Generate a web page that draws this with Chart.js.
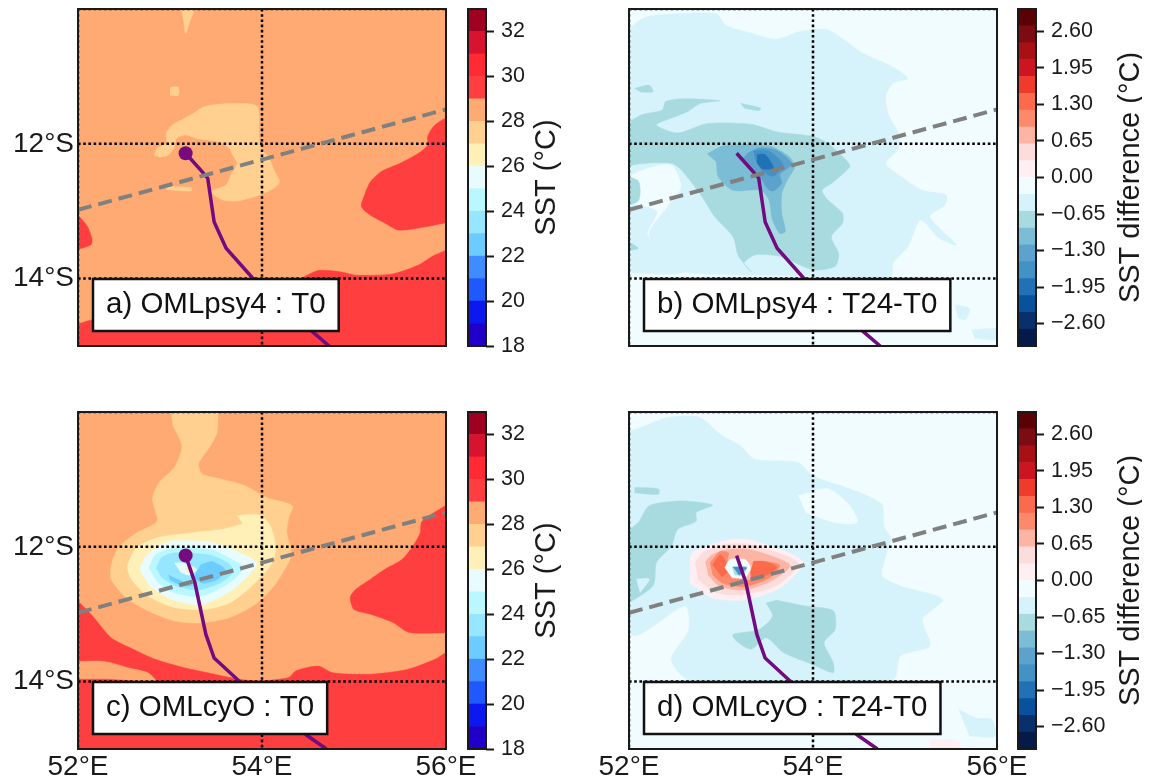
<!DOCTYPE html>
<html>
<head>
<meta charset="utf-8">
<script src="https://cdn.jsdelivr.net/npm/chart.js"></script>
<style>
  html, body { margin: 0; background: #fff; }
  canvas { position: absolute; }
</style>
</head>
<body>
<script>
// colour bands (lower bound of each band, one more bound than colours)
const sstBounds = [18,19,20,21,22,23,24,25,26,27,28,29,30,31,32,33];
const sstColors = ['#2000c8','#0c18f0','#2058ff','#3e8cff','#6cccff','#96e6ff','#baf8ff','#e8fcff','#fff0b8','#ffd090','#ffaa72','#ff3f3f','#ff2a33','#d7132f','#a00020'];
const sstTicks = [18,20,22,24,26,28,30,32];
const diffBounds = [-3,-2.7,-2.4,-2.1,-1.8,-1.5,-1.2,-0.9,-0.6,-0.3,0,0.3,0.6,0.9,1.2,1.5,1.8,2.1,2.4,2.7,3];
const diffColors = ['#061a4a','#08306b','#08519c','#2171b5','#4292c6','#5ca2cc','#7abdd4','#a8dbe0','#d6f3fb','#f0fcff','#ffeef2','#fddcdc','#fcb5a5','#fc8a6a','#fb6a4a','#ef3b2c','#cc1520','#a81016','#7d0b12','#5c0008'];
const diffTicks = [-2.6,-1.95,-1.3,-0.65,0,0.65,1.3,1.95,2.6];

const lonTicks = [52,54,56];
const latTicks = [-14,-12];
const dottedLons = [52,54];
const dottedLats = [-10,-12,-14];
const fullBox = [[52,-10],[56,-10],[56,-15],[52,-15]];

// storm tracks and section line, lon/lat
const trackPsy = [[53.17,-12.14],[53.38,-12.46],[53.41,-12.51],[53.48,-13.16],[53.61,-13.55],[53.89,-13.98],[54.55,-14.79],[54.73,-15]];
const trackCyo = [[53.17,-12.13],[53.27,-12.53],[53.39,-13.3],[53.48,-13.65],[53.75,-13.99],[54.49,-14.8],[54.7,-15]];
const sectionA = [[52,-12.98],[56,-11.49]];

// a) OMLpsy4 T0 contours, shapes touching the frame run a bit past it
const aEast = [[56.15,-11.5],[55.88,-11.72],[55.8,-11.89],[55.8,-12.02],[55.7,-12.14],[55.5,-12.29],[55.3,-12.41],[55.18,-12.56],[55.12,-12.74],[55.08,-12.93],[55.18,-13.06],[55.34,-13.18],[55.48,-13.28],[55.7,-13.25],[56.15,-13.13]];
const aSouth = [[51.85,-14.75],[52.16,-14.61],[53,-14.5],[54,-14.3],[54.45,-13.98],[54.61,-13.88],[54.85,-13.9],[55.02,-13.95],[55.42,-13.93],[55.7,-13.8],[55.88,-13.65],[56.15,-13.55],[56.15,-15.15],[51.85,-15.15]];
const aWest = [[51.85,-12.85],[52.09,-13.2],[52.15,-13.4],[52.14,-13.5],[51.85,-13.62]];
const aCool = [[52.83,-12.17],[52.86,-12.07],[52.96,-11.99],[52.96,-11.84],[53.03,-11.72],[53.23,-11.57],[53.37,-11.45],[53.57,-11.41],[53.89,-11.41],[53.96,-11.47],[53.97,-11.94],[54,-12.09],[54.07,-12.19],[54.13,-12.39],[54.19,-12.56],[54.13,-12.66],[53.97,-12.76],[53.73,-12.85],[53.57,-12.83],[53.45,-12.71],[53.61,-12.61],[53.67,-12.44],[53.73,-12.29],[53.67,-12.14],[53.65,-12.07],[53.53,-11.97],[53.29,-11.92],[53.17,-11.87],[53.07,-11.92],[53.05,-12.04],[52.98,-12.17],[52.88,-12.2]];
const aStrip = [[52.96,-12.63],[53.23,-12.65],[53.23,-12.7],[52.96,-12.68]];
const aNorth = [[53.1,-9.85],[53.29,-9.85],[53.21,-10.21],[53.17,-10.36],[53.15,-10.21]];
const aSpot = [[53,-11.16],[53.09,-11.16],[53.09,-11.28],[53,-11.28]];

// b) OMLpsy4 T24-T0 contours
const bPale = [[51.85,-10.5],[52.12,-10.16],[52.3,-10.09],[52.95,-10.07],[53.05,-10.24],[53.33,-10.36],[53.6,-10.45],[53.84,-10.34],[54.16,-10.31],[54.55,-10.66],[54.87,-10.86],[55.03,-11.03],[54.87,-11.1],[54.79,-11.3],[54.83,-11.6],[54.93,-11.84],[54.93,-12.07],[54.79,-12.29],[54.91,-12.44],[55.19,-12.69],[55.45,-12.76],[55.43,-12.91],[55.27,-13.08],[55.56,-13.5],[55.37,-13.4],[55.17,-13.13],[55.03,-13.53],[54.87,-13.77],[54.85,-13.97],[54.24,-13.97],[53.25,-13.95],[52.61,-13.9],[52.34,-13.65],[52.22,-13.33],[52.42,-12.93],[52.57,-12.64],[52.46,-12.31],[52.14,-12.39],[51.85,-12.6]];
const bPaleLeft = [[51.85,-12.85],[52.3,-13],[52.2,-13.35],[52.6,-13.9],[51.85,-13.9]];
const bPaleSpot1 = [[55.54,-14.39],[55.7,-14.44],[55.66,-14.61],[55.58,-14.59]];
const bPaleSpot2 = [[55.72,-14.76],[56.15,-14.74],[56.15,-14.91],[55.76,-14.89]];
const bTeal = [[51.85,-11.8],[52.14,-11.57],[52.36,-11.5],[52.4,-11.37],[52.61,-11.33],[52.99,-11.36],[52.78,-11.4],[52.64,-11.52],[52.5,-11.6],[52.3,-11.72],[52.53,-11.84],[52.85,-11.7],[53.33,-11.71],[53.6,-11.82],[54,-11.89],[54.16,-11.99],[54.36,-12.24],[54.4,-12.34],[54.2,-12.59],[54.1,-12.69],[54.16,-12.83],[54.32,-13.03],[54.32,-13.18],[54.2,-13.38],[54.28,-13.63],[54.24,-13.82],[54,-13.87],[53.64,-13.67],[53.37,-13.65],[53.25,-13.77],[53.33,-13.9],[53.19,-13.67],[53.13,-13.38],[52.93,-13.08],[52.79,-12.78],[52.57,-12.39],[52.46,-12.29],[52.06,-12.31],[51.85,-12.45]];
const bTealLeft = [[51.85,-12.45],[52.1,-12.55],[52.1,-12.85],[51.85,-12.95]];
const bTealSpot1 = [[52.06,-11.18],[52.22,-11.13],[52.26,-11.23],[52.12,-11.23]];
const bTealSpot2 = [[53.21,-11.4],[53.43,-11.47],[53.41,-11.51],[53.25,-11.47]];
const bTealSpot3 = [[51.85,-13.35],[52.1,-13.55],[51.85,-13.6]];
const bBlue1 = [[52.85,-12.15],[53.03,-12.03],[53.52,-12.03],[53.74,-12.19],[53.8,-12.34],[53.72,-12.54],[53.66,-12.74],[53.66,-13.03],[53.7,-13.3],[53.64,-13.33],[53.56,-13.13],[53.52,-12.83],[53.43,-12.69],[53.13,-12.69],[52.97,-12.49],[52.95,-12.27]];
const bBlue2 = [[53.29,-12.14],[53.42,-12.06],[53.61,-12.1],[53.77,-12.3],[53.64,-12.45],[53.66,-12.58],[53.57,-12.7],[53.51,-12.67],[53.42,-12.48],[53.33,-12.36],[53.24,-12.21]];
const bBlue3 = [[53.35,-12.1],[53.51,-12.1],[53.67,-12.3],[53.57,-12.48],[53.45,-12.4],[53.37,-12.22]];
const bBlue4 = [[53.39,-12.16],[53.48,-12.16],[53.57,-12.36],[53.45,-12.37],[53.39,-12.28]];

// c) OMLcyO T0 contours
const cEast = [[56.15,-11.26],[55.74,-11.62],[55.72,-11.79],[55.64,-11.99],[55.52,-12.19],[55.34,-12.33],[55.18,-12.48],[55.02,-12.63],[54.96,-12.75],[55,-12.93],[55.18,-13],[55.42,-13.12],[55.6,-13.27],[56.15,-13.27]];
const cSouth = [[51.85,-12.6],[52.16,-13.03],[52.36,-13.35],[52.6,-13.52],[52.84,-13.67],[53.17,-13.8],[53.41,-13.87],[53.73,-13.96],[53.97,-13.99],[54.29,-13.94],[54.37,-13.84],[54.61,-13.77],[54.77,-13.87],[55.18,-13.89],[55.58,-13.82],[55.88,-13.67],[56.15,-13.48],[56.15,-15.15],[51.85,-15.15]];
const cSliver = [[51.85,-13.71],[52.28,-13.7],[52.56,-13.8],[52.76,-13.87],[52.84,-13.99],[52.36,-13.96],[51.85,-13.96]];
const cBand27 = [[53,-9.85],[53.49,-9.85],[53.51,-10.3],[53.43,-10.52],[53.31,-10.77],[53.35,-10.92],[53.57,-11],[53.81,-11.09],[54.05,-11.27],[54.33,-11.39],[54.29,-11.57],[54.27,-11.79],[54.32,-12.09],[54.29,-12.23],[54.13,-12.58],[53.93,-12.85],[53.65,-13.05],[53.33,-13.13],[53.05,-13.1],[52.76,-12.95],[52.52,-12.75],[52.36,-12.48],[52.36,-12.28],[52.44,-12.01],[52.64,-11.79],[52.86,-11.62],[52.81,-11.29],[52.88,-11.05],[53.05,-10.82],[53.13,-10.5],[53.03,-10.2]];
const cBand26 = [[53.73,-11.54],[53.97,-11.53],[54.09,-11.69],[54.15,-12.04],[54.09,-12.28],[53.89,-12.58],[53.65,-12.83],[53.37,-12.93],[53.05,-12.9],[52.76,-12.73],[52.58,-12.48],[52.54,-12.28],[52.64,-12.01],[52.88,-11.86],[53.25,-11.79],[53.57,-11.74],[53.79,-11.66]];
const cBand25 = [[52.67,-12.34],[52.75,-12.12],[53,-11.92],[53.47,-11.94],[53.76,-12.09],[53.94,-12.24],[53.83,-12.46],[53.62,-12.69],[53.33,-12.86],[53.04,-12.79],[52.78,-12.59]];
const cBand24 = [[52.77,-12.32],[52.84,-12.12],[53.04,-12.02],[53.47,-12.05],[53.69,-12.2],[53.8,-12.3],[53.69,-12.49],[53.47,-12.67],[53.29,-12.74],[53.02,-12.67],[52.86,-12.52]];
const cBand23 = [[52.85,-12.32],[52.91,-12.16],[53.05,-12.09],[53.43,-12.12],[53.63,-12.24],[53.69,-12.37],[53.54,-12.54],[53.29,-12.64],[53.05,-12.57],[52.91,-12.46]];
const cCore22 = [[53.33,-12.27],[53.46,-12.22],[53.6,-12.34],[53.51,-12.49],[53.36,-12.54],[53.27,-12.46],[53.29,-12.37]];
const cStrip22 = [[52.98,-12.42],[53.14,-12.52],[53.25,-12.57],[53.14,-12.58],[53,-12.49]];
const cEye25 = [[53.05,-12.24],[53.14,-12.24],[53.29,-12.34],[53.2,-12.42],[53.11,-12.37]];
const cEye26 = [[53.16,-12.31],[53.27,-12.31],[53.24,-12.37],[53.18,-12.37]];

// d) OMLcyO T24-T0 contours
const dPale = [[51.85,-10.36],[52.18,-10.2],[52.42,-10.08],[52.77,-10.08],[53.01,-10.35],[53.21,-10.5],[53.37,-10.7],[53.84,-10.75],[54,-10.95],[54.4,-11.14],[54.75,-11.37],[54.77,-11.69],[54.85,-11.89],[54.79,-12.14],[54.75,-12.43],[54.95,-12.58],[55.41,-12.78],[55.19,-13.08],[55.27,-13.47],[54.95,-13.62],[54.87,-13.97],[52.65,-13.97],[52.46,-13.67],[52.65,-13.23],[52.61,-12.88],[52.06,-13.32],[51.85,-12.9]];
const dHole = [[53.84,-11.24],[54.16,-11.14],[54.4,-11.39],[54.48,-11.64],[54.24,-11.64],[53.92,-11.49]];
const dPaleSpot = [[55.58,-14.41],[55.78,-14.54],[55.94,-14.56],[55.98,-14.81],[55.7,-14.81]];
const dPinkCorner = [[55.27,-14.86],[55.58,-14.89],[55.6,-15.15],[55.27,-15.15]];
const dTealWest = [[51.85,-11.9],[52.1,-11.64],[52.22,-11.39],[52.57,-11.32],[52.91,-11.38],[52.73,-11.49],[52.73,-11.62],[52.53,-11.74],[52.46,-11.99],[52.3,-12.23],[52.26,-12.58],[51.85,-12.95]];
const dTealHole = [[52.08,-12.48],[52.22,-12.48],[52.12,-12.68]];
const dTealSouth = [[53.6,-12.79],[53.92,-12.88],[54.22,-12.95],[54.24,-13.23],[54.12,-13.42],[54.22,-13.72],[54.22,-13.87],[54,-13.75],[53.68,-13.57],[53.49,-13.35],[53.33,-13.52],[53.17,-13.4],[53.13,-13.3],[53.41,-13.23],[53.56,-13.03],[53.49,-12.83]];
const dTealNorth = [[52.06,-11.12],[52.32,-11.14],[52.32,-11.22],[52.06,-11.2]];
const dWarm0 = [[52.66,-12.19],[52.7,-12.07],[53.07,-11.9],[53.32,-11.9],[53.89,-12.22],[53.64,-12.61],[53.24,-12.79],[52.91,-12.76],[52.66,-12.54]];
const dWarm1 = [[52.72,-12.24],[52.8,-12.09],[53.04,-11.97],[53.32,-11.97],[53.84,-12.24],[53.61,-12.57],[53.24,-12.71],[52.95,-12.68],[52.75,-12.49]];
const dWarm2 = [[52.83,-12.22],[52.9,-12.12],[53.07,-12.04],[53.32,-12.04],[53.75,-12.27],[53.57,-12.49],[53.26,-12.64],[52.99,-12.59],[52.86,-12.42]];
const dWarm3 = [[52.88,-12.24],[52.99,-12.07],[53.08,-12.09],[53.07,-12.22],[53.13,-12.39],[53.26,-12.49],[53.46,-12.45],[53.35,-12.22],[53.64,-12.27],[53.53,-12.46],[53.26,-12.59],[53.02,-12.54],[52.91,-12.42]];
const dWarm4East = [[53.35,-12.22],[53.48,-12.22],[53.61,-12.3],[53.5,-12.42],[53.34,-12.49],[53.32,-12.37]];
const dWarm4West = [[52.91,-12.27],[52.99,-12.12],[53.04,-12.19],[53.07,-12.37],[53.01,-12.45]];
const dEye = [[53.04,-12.31],[53.1,-12.19],[53.26,-12.19],[53.32,-12.31],[53.26,-12.46],[53.12,-12.46]];
const dEyeTeal = [[53.12,-12.3],[53.28,-12.3],[53.23,-12.42],[53.15,-12.42]];
const dEyeBlue = [[53.13,-12.3],[53.28,-12.31],[53.23,-12.37],[53.2,-12.42],[53.17,-12.37]];

// painter's order, first entry is the background field
const layersA = [[28.5,fullBox],[29.5,aEast],[29.5,aSouth],[29.5,aWest],[27.5,aCool],[27.5,aStrip],[27.5,aNorth],[27.5,aSpot]];
const layersB = [[-0.15,fullBox],[-0.45,bPale],[-0.45,bPaleLeft],[-0.45,bPaleSpot1],[-0.45,bPaleSpot2],[-0.75,bTeal],[-0.75,bTealLeft],[-0.75,bTealSpot1],[-0.75,bTealSpot2],[-0.75,bTealSpot3],[-1.05,bBlue1],[-1.35,bBlue2],[-1.65,bBlue3],[-1.95,bBlue4]];
const layersC = [[28.5,fullBox],[29.5,cEast],[29.5,cSouth],[28.5,cSliver],[27.5,cBand27],[26.5,cBand26],[25.5,cBand25],[24.5,cBand24],[23.5,cBand23],[22.5,cCore22],[22.5,cStrip22],[25.5,cEye25],[26.5,cEye26]];
const layersD = [[-0.15,fullBox],[-0.45,dPale],[-0.15,dHole],[-0.45,dPaleSpot],[0.15,dPinkCorner],[-0.75,dTealWest],[-0.45,dTealHole],[-0.75,dTealSouth],[-0.75,dTealNorth],[0.15,dWarm0],[0.45,dWarm1],[0.75,dWarm2],[1.05,dWarm3],[1.35,dWarm4East],[1.35,dWarm4West],[-0.15,dEye],[-0.75,dEyeTeal],[-1.65,dEyeBlue]];

const FONT = '"Liberation Sans", Arial, sans-serif';
const INK = '#1a1a1a';

function bandColor(bounds, colors, v) {
  for (let i = 0; i < colors.length; i++) {
    if (v >= bounds[i] && v < bounds[i + 1]) return colors[i];
  }
  return colors[colors.length - 1];
}

function toXY(path) {
  return path.map((p) => ({ x: p[0], y: p[1] }));
}

function addCanvas(left, top, width, height) {
  const c = document.createElement('canvas');
  c.width = width;
  c.height = height;
  c.style.left = left + 'px';
  c.style.top = top + 'px';
  document.body.appendChild(c);
  return c;
}

// frame and the white text box of a map panel
const panelDecor = {
  id: 'panelDecor',
  afterDatasetsDraw(chart, args, opts) {
    const { ctx, chartArea: a } = chart;
    ctx.save();
    ctx.strokeStyle = INK;
    ctx.lineWidth = 2;
    ctx.strokeRect(a.left, a.top, a.right - a.left, a.bottom - a.top);
    ctx.font = '29.5px ' + FONT;
    const w = ctx.measureText(opts.text).width + 26;
    const x = a.left + 15, y = a.bottom - 67;
    ctx.fillStyle = '#fff';
    ctx.fillRect(x, y, w, 52);
    ctx.lineWidth = 2.5;
    ctx.strokeStyle = '#111';
    ctx.strokeRect(x, y, w, 52);
    ctx.fillStyle = '#111';
    ctx.textBaseline = 'middle';
    ctx.fillText(opts.text, x + 13, y + 26);
    ctx.restore();
  }
};

// colourbar title reads bottom to top, the scale title would not on the right side
const barTitle = {
  id: 'barTitle',
  afterDraw(chart, args, opts) {
    const { ctx, chartArea: a } = chart;
    ctx.save();
    ctx.translate(a.right + opts.offset, (a.top + a.bottom) / 2);
    ctx.rotate(-Math.PI / 2);
    ctx.font = '29px ' + FONT;
    ctx.fillStyle = INK;
    ctx.textAlign = 'center';
    ctx.textBaseline = 'middle';
    ctx.fillText(opts.text, 0, 0);
    ctx.restore();
    ctx.save();
    ctx.strokeStyle = INK;
    ctx.lineWidth = 2;
    ctx.strokeRect(a.left, a.top, a.right - a.left, a.bottom - a.top);
    ctx.restore();
  }
};

function makeMap(left, top, opts) {
  const sets = [];
  opts.layers.forEach((l) => {
    const color = bandColor(opts.bounds, opts.colors, l[0]);
    sets.push({
      data: toXY(l[1]), showLine: true, fill: 'shape', backgroundColor: color,
      borderColor: color, borderWidth: 0.5, pointRadius: 0,
      tension: l[1] === fullBox ? 0 : 0.25, capBezierPoints: false
    });
  });
  dottedLats.forEach((lat) => {
    sets.push({
      data: [{ x: 52, y: lat }, { x: 56, y: lat }], showLine: true, pointRadius: 0,
      borderColor: '#000', borderWidth: 2.5, borderDash: [2.6, 2.6], fill: false
    });
  });
  dottedLons.forEach((lon) => {
    sets.push({
      data: [{ x: lon, y: -10 }, { x: lon, y: -15 }], showLine: true, pointRadius: 0,
      borderColor: '#000', borderWidth: 2.5, borderDash: [2.6, 2.6], fill: false
    });
  });
  sets.push({
    data: toXY(opts.track), showLine: true, pointRadius: 0, fill: false,
    borderColor: '#720a80', borderWidth: 3.5
  });
  sets.push({
    data: toXY(sectionA), showLine: true, pointRadius: 0, fill: false,
    borderColor: '#808080', borderWidth: 4, borderDash: [14, 7]
  });
  if (opts.marker) {
    sets.push({
      data: toXY(opts.track.slice(0, 1)), pointRadius: 7, pointBackgroundColor: '#780a80',
      pointBorderWidth: 0, showLine: false, fill: false
    });
  }
  sets.forEach((s, i) => { s.order = sets.length - i; });

  new Chart(addCanvas(left, top, 486, 377), {
    type: 'scatter',
    data: { datasets: sets },
    options: {
      responsive: false,
      animation: false,
      layout: { padding: { top: 9, right: 40 } },
      plugins: {
        legend: { display: false },
        tooltip: { enabled: false },
        panelDecor: { text: opts.label }
      },
      scales: {
        x: {
          type: 'linear', min: 52, max: 56,
          afterBuildTicks(s) { s.ticks = lonTicks.map((v) => ({ value: v })); },
          afterFit(s) { s.height = 31; s.paddingLeft = 0; s.paddingRight = 0; },
          grid: { display: false, drawTicks: false },
          border: { display: false },
          ticks: {
            display: opts.showX, maxRotation: 0, autoSkip: false, padding: 1, color: INK,
            font: { family: FONT, size: 28 },
            callback: (v) => v + '°E'
          }
        },
        y: {
          type: 'linear', min: -15, max: -10,
          afterBuildTicks(s) { s.ticks = latTicks.map((v) => ({ value: v })); },
          afterFit(s) { s.width = 78; s.paddingTop = 0; s.paddingBottom = 0; },
          grid: { display: false, drawTicks: false },
          border: { display: false },
          ticks: {
            display: opts.showY, autoSkip: false, padding: 4, color: INK,
            font: { family: FONT, size: 28 },
            callback: (v) => Math.abs(v) + '°S'
          }
        }
      }
    },
    plugins: [panelDecor]
  });
}

function makeBar(left, top, opts) {
  const sets = opts.colors.map((c, i) => ({
    data: [[opts.bounds[i], opts.bounds[i + 1]]],
    backgroundColor: c, borderWidth: 0, barPercentage: 1, categoryPercentage: 1
  }));
  new Chart(addCanvas(left, top, 130, 377), {
    type: 'bar',
    data: { labels: [''], datasets: sets },
    options: {
      responsive: false,
      animation: false,
      layout: { padding: { top: 9, left: 6, bottom: 31 } },
      plugins: {
        legend: { display: false },
        tooltip: { enabled: false },
        barTitle: { text: opts.title, offset: opts.titleOffset }
      },
      scales: {
        x: { display: false, stacked: true },
        y: {
          position: 'right',
          min: opts.bounds[0], max: opts.bounds[opts.bounds.length - 1],
          afterBuildTicks(s) { s.ticks = opts.ticks.map((v) => ({ value: v })); },
          afterFit(s) { s.width = 106; s.paddingTop = 0; s.paddingBottom = 0; },
          grid: { drawOnChartArea: false, tickLength: 8, tickWidth: 2, tickColor: INK },
          border: { display: false },
          ticks: {
            autoSkip: false, padding: 7, color: INK,
            font: { family: FONT, size: 21.5 },
            callback: opts.format
          }
        }
      }
    },
    plugins: [barTitle]
  });
}

const fmtDiff = (v) => (v < 0 ? '\u2212' : '') + Math.abs(v).toFixed(2);

makeMap(0, 0, { layers: layersA, bounds: sstBounds, colors: sstColors, track: trackPsy, marker: true, label: 'a) OMLpsy4 : T0', showX: false, showY: true });
makeMap(551, 0, { layers: layersB, bounds: diffBounds, colors: diffColors, track: trackPsy, marker: false, label: 'b) OMLpsy4 : T24-T0', showX: false, showY: false });
makeMap(0, 403, { layers: layersC, bounds: sstBounds, colors: sstColors, track: trackCyo, marker: true, label: 'c) OMLcyO : T0', showX: true, showY: true });
makeMap(551, 403, { layers: layersD, bounds: diffBounds, colors: diffColors, track: trackCyo, marker: false, label: 'd) OMLcyO : T24-T0', showX: true, showY: false });

makeBar(462, 0, { bounds: sstBounds, colors: sstColors, ticks: sstTicks, title: 'SST (°C)', titleOffset: 61, format: (v) => String(v) });
makeBar(1012, 0, { bounds: diffBounds, colors: diffColors, ticks: diffTicks, title: 'SST difference (°C)', titleOffset: 95, format: fmtDiff });
makeBar(462, 403, { bounds: sstBounds, colors: sstColors, ticks: sstTicks, title: 'SST (°C)', titleOffset: 61, format: (v) => String(v) });
makeBar(1012, 403, { bounds: diffBounds, colors: diffColors, ticks: diffTicks, title: 'SST difference (°C)', titleOffset: 95, format: fmtDiff });
</script>
</body>
</html>
